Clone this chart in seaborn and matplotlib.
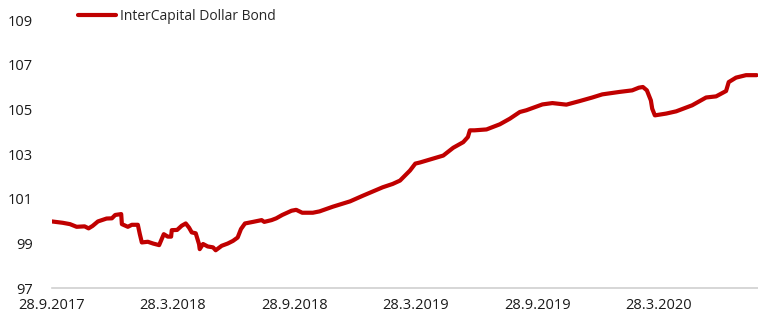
# importing needed libraries
import matplotlib.pyplot as plt
import seaborn as sns
import pandas as pd

# data
dates = [
    '2017-09-28', '2017-10-14', '2017-10-25', '2017-11-04', '2017-11-16', '2017-11-22',
    '2017-11-28', '2017-12-06', '2017-12-19', '2017-12-27', '2018-01-01', '2018-01-10',
    '2018-01-11', '2018-01-20', '2018-01-26', '2018-02-04', '2018-02-07', '2018-02-10',
    '2018-02-19', '2018-02-27', '2018-03-08', '2018-03-15', '2018-03-21', '2018-03-26',
    '2018-03-27', '2018-04-04', '2018-04-11', '2018-04-17', '2018-04-22', '2018-04-26',
    '2018-05-02', '2018-05-07', '2018-05-08', '2018-05-13', '2018-05-20', '2018-05-28',
    '2018-06-01', '2018-06-10', '2018-06-19', '2018-06-27', '2018-07-04', '2018-07-09',
    '2018-07-15', '2018-07-27', '2018-08-09', '2018-08-13', '2018-08-24', '2018-08-31',
    '2018-09-09', '2018-09-23', '2018-09-30', '2018-10-09', '2018-10-25', '2018-11-04',
    '2018-11-24', '2018-12-20', '2019-01-08', '2019-02-07', '2019-02-22', '2019-03-05',
    '2019-03-20', '2019-03-28', '2019-04-04', '2019-05-09', '2019-05-24', '2019-06-08',
    '2019-06-15', '2019-06-18', '2019-06-25', '2019-07-13', '2019-08-02', '2019-08-17',
    '2019-09-01', '2019-09-11', '2019-10-05', '2019-10-20', '2019-11-10', '2019-11-30',
    '2019-12-19', '2020-01-03', '2020-01-29', '2020-02-17', '2020-02-27', '2020-03-04',
    '2020-03-10', '2020-03-16', '2020-03-18', '2020-03-22', '2020-04-08', '2020-04-23',
    '2020-05-17', '2020-06-07', '2020-06-22', '2020-07-07', '2020-07-11', '2020-07-22',
    '2020-08-06', '2020-08-22',
]
values = [
    99.98, 99.92, 99.86, 99.74, 99.76, 99.67,
    99.78, 99.98, 100.11, 100.12, 100.27, 100.31,
    99.86, 99.74, 99.83, 99.83, 99.41, 99.04,
    99.07, 98.99, 98.92, 99.41, 99.30, 99.30,
    99.59, 99.60, 99.79, 99.89, 99.70, 99.49,
    99.45, 98.96, 98.74, 98.97, 98.86, 98.82,
    98.69, 98.89, 98.99, 99.11, 99.26, 99.64,
    99.89, 99.96, 100.04, 99.96, 100.04, 100.12,
    100.27, 100.46, 100.50, 100.37, 100.37, 100.43,
    100.64, 100.88, 101.13, 101.51, 101.66, 101.81,
    102.26, 102.57, 102.62, 102.93, 103.28, 103.53,
    103.76, 104.06, 104.06, 104.10, 104.33, 104.58,
    104.88, 104.96, 105.22, 105.28, 105.21, 105.37,
    105.53, 105.67, 105.78, 105.85, 105.97, 106.00,
    105.85, 105.40, 105.03, 104.73, 104.81, 104.91,
    105.18, 105.53, 105.58, 105.82, 106.22, 106.42,
    106.53, 106.53,
]
series_name = 'InterCapital Dollar Bond'
tick_dates = ['2017-09-28', '2018-03-28', '2018-09-28', '2019-03-28', '2019-09-28', '2020-03-28']
tick_labels = ['28.9.2017', '28.3.2018', '28.9.2018', '28.3.2019', '28.9.2019', '28.3.2020']
y_ticks = [97, 99, 101, 103, 105, 107, 109]

df = pd.DataFrame({'date': pd.to_datetime(dates), 'value': values, 'series': series_name})

# styling
sns.set_style("white")
plt.rcParams['font.family'] = ['Open Sans', 'DejaVu Sans']

fig = plt.figure(figsize=(7.58, 3.13), dpi=100)
ax = fig.add_axes([52 / 758, (313 - 288) / 313, (758 - 52) / 758, (288 - 20) / 313])

sns.lineplot(data=df, x='date', y='value', hue='series', palette=['#C00000'],
             linewidth=3, ax=ax)

# axes limits and ticks
ax.set_xlim(pd.Timestamp('2017-09-28'), pd.Timestamp('2020-08-24'))
ax.set_ylim(97, 109)
ax.set_xticks(pd.to_datetime(tick_dates))
ax.set_xticklabels(tick_labels)
ax.set_yticks(y_ticks)
ax.tick_params(axis='x', length=4, width=1, color='#d0d0d0', pad=3, labelsize=10.5, labelcolor='#1a1a1a')
ax.tick_params(axis='y', length=0, pad=14, labelsize=10.5, labelcolor='#1a1a1a')
ax.set_xlabel('')
ax.set_ylabel('')

for side in ['top', 'right', 'left']:
    ax.spines[side].set_visible(False)
ax.spines['bottom'].set_color('#d0d0d0')
ax.spines['bottom'].set_linewidth(1.2)

# legend above the plot area
ax.legend(loc='center left', bbox_to_anchor=(78 / 758, 1 - 16 / 313), bbox_transform=fig.transFigure,
          frameon=False, fontsize=10, handlelength=2.7, handletextpad=0.35,
          borderaxespad=0, borderpad=0)

plt.savefig('out.png', dpi=100)
